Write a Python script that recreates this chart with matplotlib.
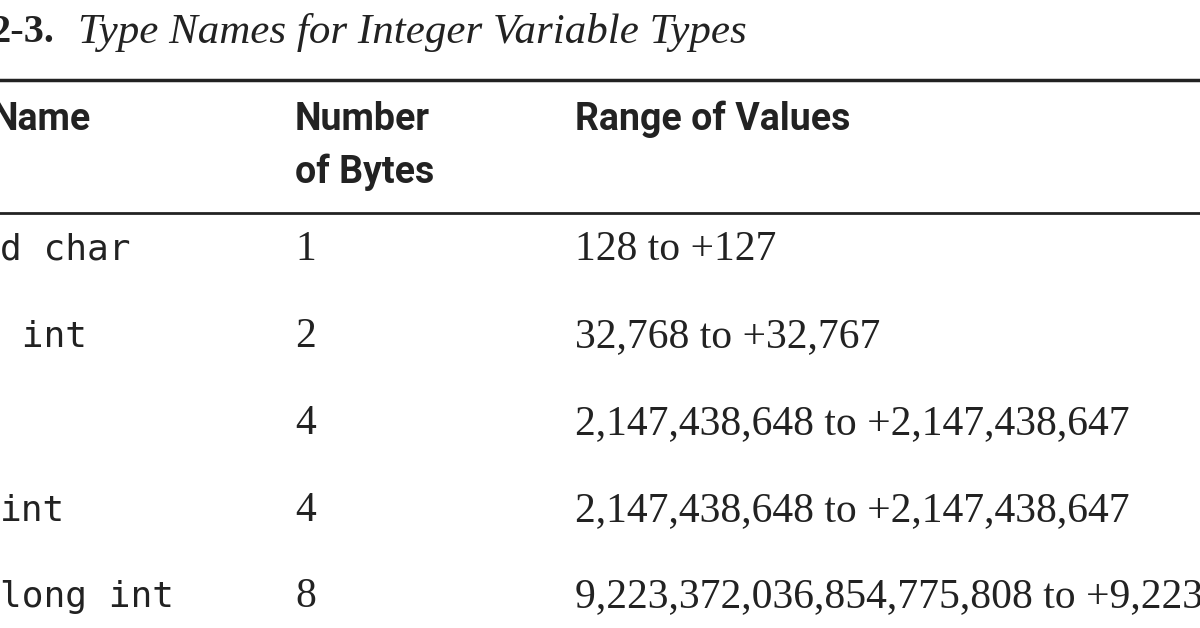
import matplotlib
matplotlib.use("Agg")
import matplotlib.pyplot as plt

title_num = "2-3."
title_text = "Type Names for Integer Variable Types"
headers = ["Name", "Number\nof Bytes", "Range of Values"]
type_names = ["d char", " int", "", "int", "long int"]
num_bytes = ["1", "2", "4", "4", "8"]
ranges = ["128 to +127", "32,768 to +32,767", "2,147,438,648 to +2,147,438,647",
          "2,147,438,648 to +2,147,438,647", "9,223,372,036,854,775,808 to +9,223,372,036,854,775,807"]

W, H = 1200, 628
fig = plt.figure(figsize=(12, 6.28), dpi=100)
fig.patch.set_facecolor("white")
ax = fig.add_axes([0, 0, 1, 1])
ax.set_xlim(0, W); ax.set_ylim(H, 0); ax.axis("off")

ink = "#222222"
ax.text(-10, 33, title_num, fontsize=29, fontweight="bold", family="Liberation Serif",
        va="center", ha="left", color=ink)
ax.text(78, 33, title_text, fontsize=31, style="italic", family="Liberation Serif",
        va="center", ha="left", color=ink)
ax.plot([0, W], [80, 80], color=ink, lw=2.5)
ax.plot([0, W], [213, 213], color=ink, lw=2)

col_x = [-8, 295, 575]
hkw = dict(fontsize=27, fontweight="bold", family="Roboto", va="center", ha="left", color=ink)
ax.text(col_x[0], 119, headers[0], **hkw)
ax.text(col_x[1], 146, headers[1], linespacing=1.5, **hkw)
ax.text(col_x[2], 119, headers[2], **hkw)

row_y = [250, 337, 424, 511, 597]
for y, n, b, r in zip(row_y, type_names, num_bytes, ranges):
    ax.text(0, y, n, fontsize=26, family="DejaVu Sans Mono", va="center", ha="left", color=ink)
    ax.text(col_x[1], y, b, fontsize=30, family="Liberation Serif", va="center", ha="left", color=ink)
    ax.text(col_x[2], y, r, fontsize=30, family="Liberation Serif", va="center", ha="left", color=ink)

fig.savefig("out.png", dpi=100, facecolor="white")
